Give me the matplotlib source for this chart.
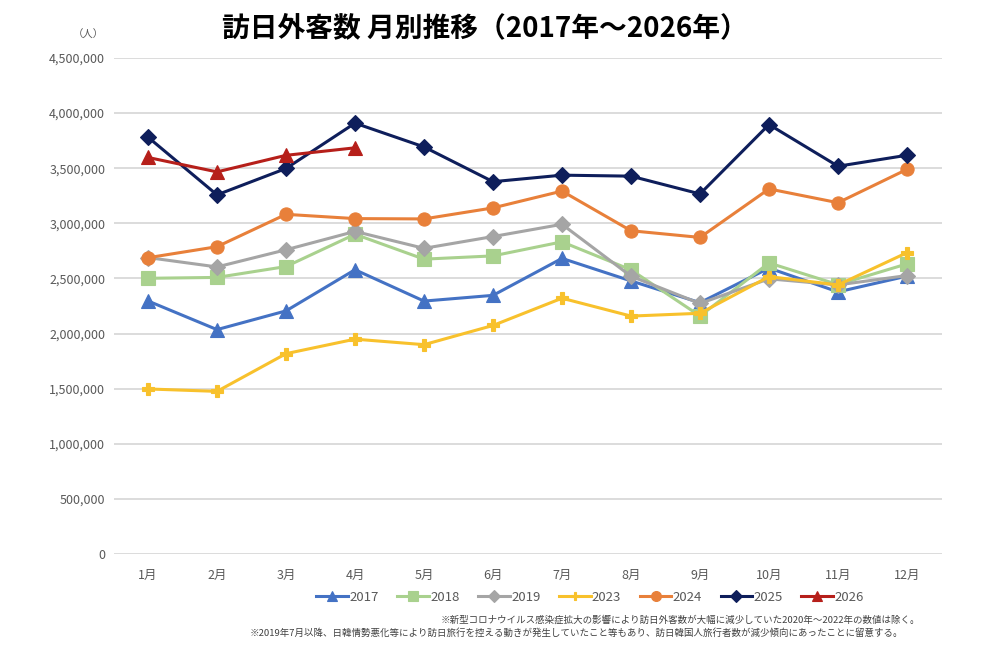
import numpy as np
import matplotlib
matplotlib.use('Agg')
import matplotlib.pyplot as plt
from matplotlib.ticker import FuncFormatter

plt.rcParams['font.family'] = ['Noto Sans CJK JP', 'DejaVu Sans']

# 月別の訪日外客数（人）
months = ['1月', '2月', '3月', '4月', '5月', '6月', '7月', '8月', '9月', '10月', '11月', '12月']

v2017 = [2295668, 2035813, 2205731, 2578970, 2294592, 2346566, 2681956, 2477520, 2280131, 2593985, 2378164, 2521201]
v2018 = [2501409, 2509297, 2607956, 2900718, 2675052, 2704631, 2832040, 2578021, 2159600, 2640612, 2443991, 2632010]
v2019 = [2689339, 2604322, 2760136, 2926685, 2773091, 2880041, 2991189, 2520134, 2272883, 2496568, 2441274, 2526387]
v2023 = [1497472, 1475455, 1817548, 1949236, 1899176, 2073350, 2320643, 2158463, 2183999, 2516623, 2441300, 2734000]
v2024 = [2688100, 2788000, 3081600, 3042900, 3040000, 3140000, 3292500, 2932700, 2872200, 3312200, 3187000, 3489800]
v2025 = [3781600, 3258400, 3497600, 3908900, 3693300, 3377800, 3437000, 3428000, 3266800, 3896300, 3518000, 3617700]
v2026 = [3597500, 3466700, 3617000, 3685000]

series = [
    ('2017', v2017, '#4472C4', '^'),
    ('2018', v2018, '#A9D18E', 's'),
    ('2019', v2019, '#A5A5A5', 'D'),
    ('2023', v2023, '#F8C12C', 'P'),
    ('2024', v2024, '#E8803A', 'o'),
    ('2025', v2025, '#0E1E5B', 'D'),
    ('2026', v2026, '#B61F1A', '^'),
]

fig = plt.figure(figsize=(10, 6.65), dpi=100)
ax = fig.add_axes([0.1135, 0.1669, 0.828, 0.7459])

x = np.arange(1, 13)
for name, vals, col, mk in series:
    ms = 9.5
    if mk == 'D':
        ms = 8
    if mk == 'P':
        ms = 8
    ax.plot(x[:len(vals)], vals, color=col, marker=mk, markersize=ms,
            linewidth=2.2, markeredgewidth=0.8, markeredgecolor=col, label=name)

ax.set_xlim(0.5, 12.5)
ax.set_ylim(0, 4500000)
ax.set_yticks(np.arange(0, 4500001, 500000))
ax.yaxis.set_major_formatter(FuncFormatter(lambda v, p: f'{int(v):,}'))
ax.set_xticks(x)
ax.set_xticklabels(months)
ax.grid(axis='y', color='#D9D9D9', linewidth=1.3)
ax.set_axisbelow(True)
for s in ax.spines.values():
    s.set_visible(False)
ax.tick_params(length=0, labelsize=9, colors='#595959', pad=11)
ax.tick_params(axis='y', pad=6)

fig.text(0.485, 0.957, '訪日外客数 月別推移（2017年～2026年）', ha='center', va='center',
         fontsize=20, fontweight='bold', color='black')
fig.text(0.088, 0.948, '（人）', ha='center', va='center', fontsize=7.5, color='#595959')

fig.legend(loc='center', bbox_to_anchor=(0.59, 0.102), ncol=7, frameon=False,
           fontsize=9.5, handlelength=2.4, columnspacing=1.4, handletextpad=0.1,
           markerscale=0.75, labelcolor='#595959')

fig.text(0.92, 0.068, '※新型コロナウイルス感染症拡大の影響により訪日外客数が大幅に減少していた2020年～2022年の数値は除く。',
         ha='right', va='center', fontsize=6.8, color='#404040')
fig.text(0.25, 0.048, '※2019年7月以降、日韓情勢悪化等により訪日旅行を控える動きが発生していたこと等もあり、訪日韓国人旅行者数が減少傾向にあったことに留意する。',
         ha='left', va='center', fontsize=6.8, color='#404040')

fig.savefig('out.png', dpi=100)
